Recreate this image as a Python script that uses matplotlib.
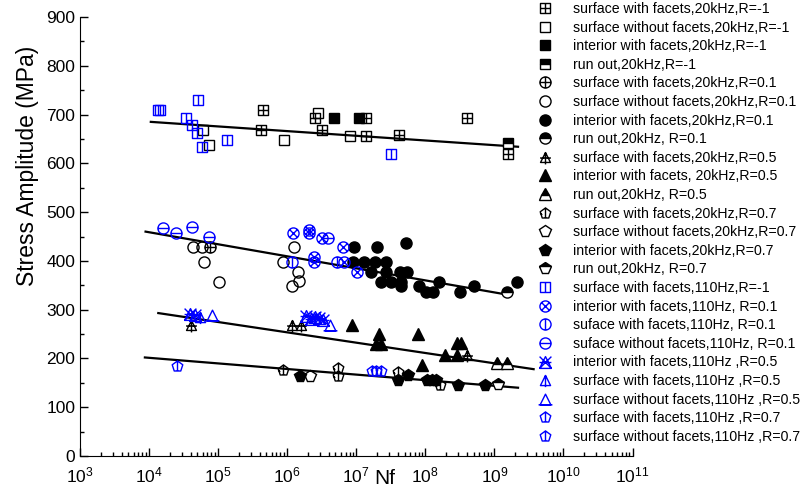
import matplotlib
matplotlib.use("Agg")
import matplotlib.pyplot as plt
from matplotlib.path import Path
from matplotlib.ticker import FixedLocator, LogLocator, MultipleLocator, NullFormatter

plt.rcParams['font.family'] = ['Liberation Sans', 'DejaVu Sans']
plt.rcParams['mathtext.default'] = 'regular'

# ---- data (Nf, stress amplitude in MPa) ----
sf20_m1_N = [4.4e5, 4.2e5, 3.2e6, 2.5e6, 1.4e7, 1.38e7, 4.2e7, 4.0e8, 1.56e9]
sf20_m1_S = [709, 668, 668, 693, 693, 656, 658, 693, 620]
snf20_m1_N = [6.1e4, 7.4e4, 9.1e5, 2.8e6, 8.1e6]
snf20_m1_S = [668, 638, 647, 703, 656]
if20_m1_N = [4.7e6, 1.1e7]
if20_m1_S = [693, 693]
ro20_m1_N = [1.56e9]
ro20_m1_S = [642]

sf20_01_N = [7.6e4]
sf20_01_S = [428]
snf20_01_N = [4.3e4, 5.9e4, 6.3e4, 1.03e5, 8.6e5, 1.27e6, 1.45e6, 1.48e6, 1.19e6]
snf20_01_S = [428, 428, 397, 356, 397, 428, 377, 358, 348]
if20_01_N = [9.3e6, 2.0e7, 5.2e7, 8.9e6, 1.3e7, 1.89e7, 2.7e7, 1.62e7, 2.7e7, 4.3e7, 5.5e7,
             2.3e7, 3.2e7, 4.45e7, 4.45e7, 8.2e7, 1.02e8, 1.3e8, 1.6e8, 3.2e8, 5.0e8, 2.1e9]
if20_01_S = [428, 428, 437, 397, 397, 397, 397, 377, 377, 377, 377,
             356, 356, 348, 356, 348, 337, 337, 356, 337, 348, 356]
ro20_01_N = [1.51e9]
ro20_01_S = [337]

sf20_05_N = [4.1e4, 1.16e6, 1.58e6, 4.0e8]
sf20_05_S = [268, 268, 268, 207]
if20_05_N = [8.6e6, 2.1e7, 1.9e7, 2.3e7, 7.9e7, 8.9e7, 1.9e8, 2.85e8, 2.9e8, 3.3e8]
if20_05_S = [269, 251, 230, 230, 251, 187, 207, 207, 232, 232]
ro20_05_N = [1.08e9, 1.54e9]
ro20_05_S = [190, 190]

sf20_07_N = [8.6e5, 5.5e6, 5.5e6, 4.06e7, 1.63e8]
sf20_07_S = [177, 180, 165, 172, 145]
snf20_07_N = [2.14e6]
snf20_07_S = [165]
if20_07_N = [1.53e6, 4.0e7, 5.6e7, 1.05e8, 1.24e8, 1.45e8, 3.0e8, 7.3e8]
if20_07_S = [165, 156, 167, 156, 156, 156, 145, 145]
ro20_07_N = [1.14e9]
ro20_07_S = [147]

sf110_m1_N = [1.44e4, 1.35e4, 5.06e4, 3.4e4, 4.14e4, 5.0e4, 5.9e4, 1.36e5, 3.18e7]
sf110_m1_S = [709, 709, 729, 693, 678, 663, 633, 647, 620]
if110_01_N = [1.2e6, 2.09e6, 2.09e6, 3.2e6, 2.47e6, 2.47e6, 6.4e6, 6.7e6, 1.03e7]
if110_01_S = [457, 463, 457, 447, 408, 397, 428, 397, 377]
sf110_01_N = [1.19e6, 5.2e6]
sf110_01_S = [397, 397]
snf110_01_N = [1.61e4, 2.48e4, 4.14e4, 7.4e4, 3.9e6]
snf110_01_S = [468, 457, 469, 448, 447]
if110_05_N = [3.9e4, 4.6e4, 1.9e6, 2.2e6, 2.5e6, 2.9e6, 3.3e6]
if110_05_S = [291, 289, 286, 280, 284, 282, 279]
sf110_05_N = [5.5e4]
sf110_05_S = [284]
snf110_05_N = [8.1e4, 4.2e6]
snf110_05_S = [289, 269]
sf110_07_N = [2.5e4]
sf110_07_S = [185]
snf110_07_N = [1.7e7, 1.93e7, 2.3e7]
snf110_07_S = [174, 174, 174]

# fitted lines (end points)
fit_N = [[1.06e4, 2.2e9], [8.9e3, 1.25e9], [1.36e4, 3.7e9], [8.7e3, 2.2e9]]
fit_S = [[685, 634], [460, 333], [293, 178], [202, 140]]

x_major = [1e3, 1e4, 1e5, 1e6, 1e7, 1e8, 1e9, 1e10, 1e11]


# ---- marker shapes ----
def seg(p, q):
    return Path([p, q], [Path.MOVETO, Path.LINETO])


def poly(pts):
    return Path(pts + [pts[0]], [Path.MOVETO] + [Path.LINETO] * (len(pts) - 1) + [Path.CLOSEPOLY])


square = poly([(-1, -1), (1, -1), (1, 1), (-1, 1)])
tri = poly([(0, 1), (-1, -1), (1, -1)])
circ = Path.unit_circle()
pent = Path.unit_regular_polygon(5)
pv = pent.vertices

sq_plus = Path.make_compound_path(square, seg((0, -1), (0, 1)), seg((-1, 0), (1, 0)))
sq_vert = Path.make_compound_path(square, seg((0, -1), (0, 1)))
c_plus = Path.make_compound_path(circ, seg((0, -1), (0, 1)), seg((-1, 0), (1, 0)))
c_x = Path.make_compound_path(circ, seg((-0.7, -0.7), (0.7, 0.7)), seg((-0.7, 0.7), (0.7, -0.7)))
c_vert = Path.make_compound_path(circ, seg((0, -1), (0, 1)))
c_hor = Path.make_compound_path(circ, seg((-1, 0), (1, 0)))
t_plus = Path.make_compound_path(tri, seg((0, 1), (0, -1.4)), seg((-1.1, -0.1), (1.1, -0.1)))
t_x = Path.make_compound_path(tri, seg((-1, 1), (1, -1)), seg((-1, -1), (1, 1)), seg((-1, 0), (1, 0)))
t_vert = Path.make_compound_path(tri, seg((0, 1), (0, -1.3)))
t_base = Path.make_compound_path(tri, seg((-1.3, -1), (1.3, -1)))
p_plus = Path.make_compound_path(pent, seg((0, 1), (0, pv[3][1])),
                                 seg((pv[2][0], pv[2][1] * 0.3), (pv[1][0], pv[1][1] * 0.3)))
p_vert = Path.make_compound_path(pent, seg((0, 1), (0, pv[3][1])))

K = 'black'
B = '#0000ff'

# (label, N, S, marker, size, color, fill)
series = [
    ('surface with facets,20kHz,R=-1', sf20_m1_N, sf20_m1_S, sq_plus, 6.5, K, 'none'),
    ('surface without facets,20kHz,R=-1', snf20_m1_N, snf20_m1_S, 's', 7, K, 'none'),
    ('interior with facets,20kHz,R=-1', if20_m1_N, if20_m1_S, 's', 7, K, 'full'),
    ('run out,20kHz,R=-1', ro20_m1_N, ro20_m1_S, 's', 7, K, 'top'),
    ('surface with facets,20kHz,R=0.1', sf20_01_N, sf20_01_S, c_plus, 8, K, 'none'),
    ('surface without facets,20kHz,R=0.1', snf20_01_N, snf20_01_S, 'o', 8, K, 'none'),
    ('interior with facets,20kHz,R=0.1', if20_01_N, if20_01_S, 'o', 8, K, 'full'),
    ('run out,20kHz, R=0.1', ro20_01_N, ro20_01_S, 'o', 8, K, 'top'),
    ('surface with facets,20kHz,R=0.5', sf20_05_N, sf20_05_S, t_plus, 10, K, 'none'),
    ('interior with facets, 20kHz,R=0.5', if20_05_N, if20_05_S, '^', 8.5, K, 'full'),
    ('run out,20kHz, R=0.5', ro20_05_N, ro20_05_S, '^', 8.5, K, 'top'),
    ('surface with facets,20kHz,R=0.7', sf20_07_N, sf20_07_S, p_plus, 8, K, 'none'),
    ('surface without facets,20kHz,R=0.7', snf20_07_N, snf20_07_S, 'p', 8.5, K, 'none'),
    ('interior with facets,20kHz,R=0.7', if20_07_N, if20_07_S, 'p', 8.5, K, 'full'),
    ('run out,20kHz, R=0.7', ro20_07_N, ro20_07_S, 'p', 8.5, K, 'top'),
    ('surface with facets,110Hz,R=-1', sf110_m1_N, sf110_m1_S, sq_vert, 6.5, B, 'none'),
    ('interior with facets,110Hz, R=0.1', if110_01_N, if110_01_S, c_x, 8, B, 'none'),
    ('suface with facets,110Hz, R=0.1', sf110_01_N, sf110_01_S, c_vert, 8, B, 'none'),
    ('suface without facets,110Hz, R=0.1', snf110_01_N, snf110_01_S, c_hor, 8, B, 'none'),
    ('interior with facets,110Hz ,R=0.5', if110_05_N, if110_05_S, t_x, 8.5, B, 'none'),
    ('surface with facets,110Hz ,R=0.5', sf110_05_N, sf110_05_S, t_vert, 9.5, B, 'none'),
    ('surface without facets,110Hz ,R=0.5', snf110_05_N, snf110_05_S, t_base, 10, B, 'none'),
    ('surface with facets,110Hz ,R=0.7', sf110_07_N, sf110_07_S, p_vert, 8, B, 'none'),
    ('surface without facets,110Hz ,R=0.7', snf110_07_N, snf110_07_S, p_vert, 8, B, 'none'),
]

fig = plt.figure(figsize=(8.07, 4.92), dpi=100)
ax = fig.add_axes([80 / 807, 1 - 456 / 492, 552.5 / 807, 439 / 492])

for fx, fy in zip(fit_N, fit_S):
    ax.plot(fx, fy, '-', color='black', lw=1.6, zorder=1)

handles = []
for lab, xs, ys, mk, ms, col, fs in series:
    if fs == 'none':
        kw = dict(markerfacecolor='none')
    elif fs == 'full':
        kw = dict(markerfacecolor=col)
    else:
        kw = dict(markerfacecolor=col, fillstyle='top', markerfacecoloralt='white')
    h, = ax.plot(xs, ys, linestyle='none', marker=mk, markersize=ms,
                 markeredgecolor=col, markeredgewidth=1.0, label=lab, zorder=3, **kw)
    handles.append(h)

ax.set_xscale('log')
ax.set_xlim(1e3, 1e11)
ax.set_ylim(0, 900)
ax.yaxis.set_major_locator(MultipleLocator(100))
ax.yaxis.set_minor_locator(MultipleLocator(50))
ax.xaxis.set_major_locator(FixedLocator(x_major))
ax.xaxis.set_minor_locator(LogLocator(base=10, subs=range(2, 10), numticks=20))
ax.xaxis.set_minor_formatter(NullFormatter())

for s in ['top', 'right']:
    ax.spines[s].set_visible(False)
ax.tick_params(which='both', direction='in', labelsize=12.5, width=1)
ax.tick_params(which='major', length=6)
ax.tick_params(which='minor', length=3)
ax.tick_params(axis='x', pad=7)

ax.set_xlabel('Nf', fontsize=15)
ax.xaxis.set_label_coords((385 - 80) / 552.5, -0.03)
ax.set_ylabel('Stress Amplitude (MPa)', fontsize=16.5)
ax.yaxis.set_label_coords(-0.075, (456 - 166) / 439)

fig.legend(handles=handles, loc='upper left', bbox_to_anchor=(538 / 807, 1 - 2 / 492),
           frameon=False, fontsize=10.2, handlelength=1.0, handletextpad=1.45,
           borderpad=0, borderaxespad=0, labelspacing=0.325)

plt.savefig('out.png', dpi=100)
